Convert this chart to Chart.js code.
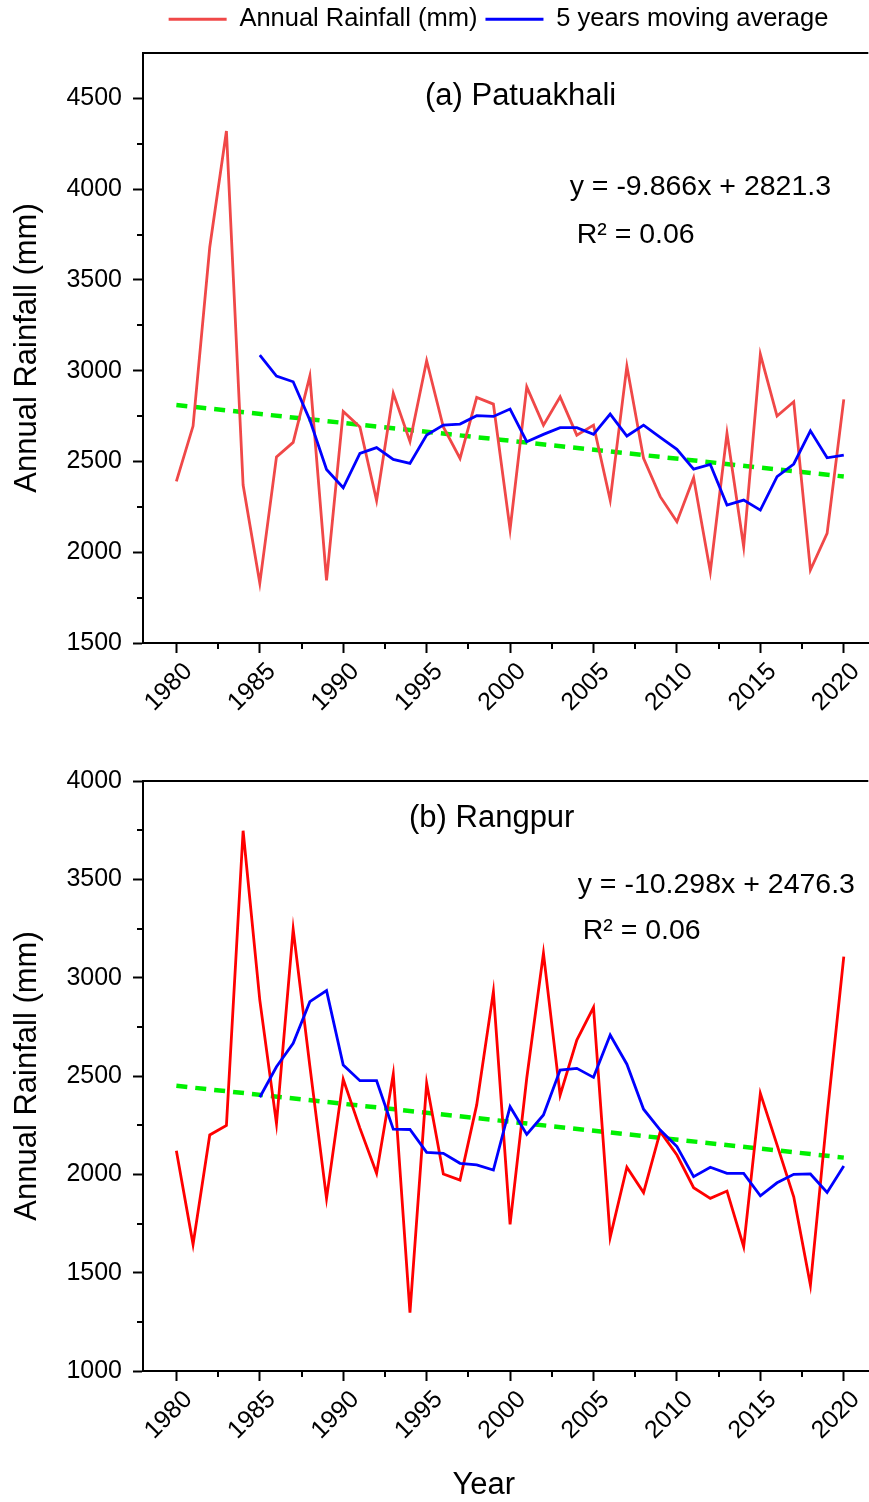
<!DOCTYPE html>
<html>
<head>
<meta charset="utf-8">
<script src="https://cdn.jsdelivr.net/npm/chart.js@4.4.0/dist/chart.umd.min.js"></script>
<style>
  body { margin: 0; background: #fff; }
  .panel { position: absolute; left: 0; width: 869px; }
  #top { top: 0; height: 740px; }
  #bottom { top: 740px; height: 762px; }
</style>
</head>
<body>
<div class="panel" id="top"><canvas id="chartA"></canvas></div>
<div class="panel" id="bottom"><canvas id="chartB"></canvas></div>
<script>
const years = [1980, 1981, 1982, 1983, 1984, 1985, 1986, 1987, 1988, 1989,
    1990, 1991, 1992, 1993, 1994, 1995, 1996, 1997, 1998, 1999,
    2000, 2001, 2002, 2003, 2004, 2005, 2006, 2007, 2008, 2009,
    2010, 2011, 2012, 2013, 2014, 2015, 2016, 2017, 2018, 2019, 2020]

// (a) Patuakhali
const patuakhaliRain = [2390, 2695, 3680, 4320, 2370, 1830, 2525, 2605, 2970, 1845,
    2775, 2690, 2285, 2875, 2610, 3055, 2690, 2517, 2853, 2816,
    2126, 2911, 2700, 2856, 2645, 2700, 2287, 3025, 2517, 2306,
    2168, 2410, 1893, 2655, 2030, 3090, 2750, 2829, 1902, 2104, 2842]
const patuakhaliAvg = [null, null, null, null, null, 3086, 2970, 2939, 2728, 2456,
    2355, 2544, 2576, 2511, 2489, 2645, 2700, 2706, 2752, 2748,
    2789, 2609, 2649, 2686, 2686, 2649, 2761, 2640, 2700, 2633,
    2567, 2458, 2484, 2260, 2287, 2232, 2416, 2486, 2669, 2520, 2535]

// (b) Rangpur
const rangpurRain = [2120, 1644, 2200, 2249, 3747, 2886, 2259, 3246, 2550, 1878,
    2483, 2235, 2005, 2510, 1297, 2463, 2002, 1971, 2353, 2929,
    1746, 2490, 3124, 2403, 2683, 2849, 1680, 2036, 1907, 2217,
    2098, 1932, 1878, 1915, 1632, 2412, 2150, 1886, 1437, 2300, 3107]
const rangpurAvg = [null, null, null, null, null, 2392, 2547, 2666, 2878, 2934,
    2556, 2476, 2476, 2230, 2228, 2112, 2107, 2056, 2048, 2022,
    2344, 2203, 2302, 2530, 2539, 2493, 2708, 2560, 2331, 2225,
    2141, 1988, 2036, 2005, 2005, 1891, 1957, 2000, 2002, 1908, 2042]

// linear trend end points
const trendYears = [1980, 2020]
const patuakhaliTrend = [2811, 2417]
const rangpurTrend = [2450, 2085]

const yearTicks = [1980, 1985, 1990, 1995, 2000, 2005, 2010, 2015, 2020]
const patuakhaliTicks = [1500, 2000, 2500, 3000, 3500, 4000, 4500]
const rangpurTicks = [1000, 1500, 2000, 2500, 3000, 3500, 4000]

const FONT = "'Liberation Sans', Arial, sans-serif"
Chart.defaults.font.family = FONT
Chart.defaults.color = '#000'

const pts = (xs, ys) => xs.map((x, i) => ({x: x, y: ys[i]}))
const mids = t => t.slice(1).map((v, i) => (v + t[i]) / 2)

// top border, minor ticks and text notes
const frame = {
    id: 'frame',
    afterDraw(chart, args, opts) {
        const {ctx, chartArea: a, scales: {x, y}} = chart
        ctx.save()
        ctx.strokeStyle = '#000'
        ctx.lineWidth = 2
        ctx.beginPath()
        ctx.moveTo(a.left - 1, a.top)
        ctx.lineTo(a.right, a.top)
        mids(yearTicks).forEach(v => {
            const px = Math.round(x.getPixelForValue(v))
            ctx.moveTo(px, a.bottom)
            ctx.lineTo(px, a.bottom + 6)
        })
        mids(opts.yTicks).forEach(v => {
            const py = Math.round(y.getPixelForValue(v))
            ctx.moveTo(a.left, py)
            ctx.lineTo(a.left - 6, py)
        })
        ctx.stroke()

        ctx.fillStyle = '#000'
        ctx.textBaseline = 'middle'
        opts.notes.forEach(n => {
            ctx.font = n.size + 'px ' + FONT
            ctx.textAlign = n.align
            const py = n.below !== undefined ? a.bottom + n.below : y.getPixelForValue(n.y)
            ctx.fillText(n.text, x.getPixelForValue(n.x), py)
        })
        ctx.restore()
    }
}

// move the legend row to where the original has it
const legendSpot = {
    id: 'legendSpot',
    afterLayout(chart, args, opts) {
        const lg = chart.legend
        if (!lg || !opts.dx) return
        lg.left += opts.dx; lg.right += opts.dx
        lg.top += opts.dy; lg.bottom += opts.dy
    }
}

function makeChart(id, cfg) {
    return new Chart(document.getElementById(id), {
        type: 'line',
        data: {
            datasets: [{
                label: 'Annual Rainfall (mm)',
                data: pts(years, cfg.rain),
                borderColor: cfg.red,
                borderWidth: 2.8,
                pointRadius: 0,
                order: 1
            }, {
                label: '5 years moving average',
                data: pts(years, cfg.avg),
                borderColor: '#0000ff',
                borderWidth: 2.8,
                pointRadius: 0,
                order: 0
            }, {
                label: 'Linear trend',
                data: pts(trendYears, cfg.trend),
                borderColor: '#00f000',
                borderWidth: 4.5,
                borderDash: [11, 8],
                pointRadius: 0,
                order: 2
            }]
        },
        options: {
            responsive: true,
            maintainAspectRatio: false,
            animation: false,
            layout: {padding: {top: cfg.padTop, left: 0, right: 0, bottom: 0}},
            plugins: {
                tooltip: {enabled: false},
                legend: {
                    display: cfg.legend,
                    position: 'top',
                    labels: {
                        usePointStyle: true,
                        pointStyle: 'line',
                        pointStyleWidth: 58,
                        padding: 8,
                        color: '#000',
                        font: {size: 25.5},
                        filter: item => item.datasetIndex < 2,
                        sort: (a, b) => a.datasetIndex - b.datasetIndex
                    }
                },
                legendSpot: {dx: 64, dy: -11},
                frame: {yTicks: cfg.yTicks, notes: cfg.notes}
            },
            scales: {
                x: {
                    type: 'linear',
                    min: 1978,
                    max: 2021.47,
                    afterBuildTicks: s => { s.ticks = yearTicks.map(v => ({value: v})) },
                    afterFit: s => { s.height = cfg.xHeight },
                    ticks: {
                        autoSkip: false,
                        minRotation: 45,
                        maxRotation: 45,
                        padding: 4,
                        labelOffset: 12,
                        color: '#000',
                        font: {size: 25},
                        callback: v => String(v)
                    },
                    grid: {drawOnChartArea: false, tickLength: 10, tickWidth: 2, tickColor: '#000'},
                    border: {color: '#000', width: 2}
                },
                y: {
                    min: cfg.yMin,
                    max: cfg.yMax,
                    afterBuildTicks: s => { s.ticks = cfg.yTicks.map(v => ({value: v})) },
                    afterFit: s => { s.width = 143 },
                    ticks: {
                        padding: 11,
                        color: '#000',
                        font: {size: 25},
                        callback: v => String(v)
                    },
                    grid: {drawOnChartArea: false, tickLength: 10, tickWidth: 2, tickColor: '#000'},
                    border: {color: '#000', width: 2},
                    title: {
                        display: true,
                        text: 'Annual Rainfall (mm)',
                        color: '#000',
                        font: {size: 31},
                        padding: {top: 9, bottom: 0}
                    }
                }
            }
        },
        plugins: [frame, legendSpot]
    })
}

makeChart('chartA', {
    rain: patuakhaliRain, avg: patuakhaliAvg, trend: patuakhaliTrend,
    red: '#f04848', legend: true, padTop: 9.5, xHeight: 97,
    yMin: 1500, yMax: 4750, yTicks: patuakhaliTicks,
    notes: [
        {text: '(a) Patuakhali', x: 2000.63, y: 4508, size: 31, align: 'center'},
        {text: 'y = -9.866x + 2821.3', x: 2003.57, y: 4011, size: 28.5, align: 'left'},
        {text: 'R\u00b2 = 0.06', x: 2003.99, y: 3747, size: 28.5, align: 'left'}
    ]
})

makeChart('chartB', {
    rain: rangpurRain, avg: rangpurAvg, trend: rangpurTrend,
    red: '#ff0000', legend: false, padTop: 41, xHeight: 131,
    yMin: 1000, yMax: 4000, yTicks: rangpurTicks,
    notes: [
        {text: '(b) Rangpur', x: 1998.9, y: 3812, size: 31, align: 'center'},
        {text: 'y = -10.298x + 2476.3', x: 2004.05, y: 3471, size: 28.5, align: 'left'},
        {text: 'R\u00b2 = 0.06', x: 2004.35, y: 3237, size: 28.5, align: 'left'},
        {text: 'Year', x: 1998.42, below: 114, size: 31, align: 'center'}
    ]
})
</script>
</body>
</html>
